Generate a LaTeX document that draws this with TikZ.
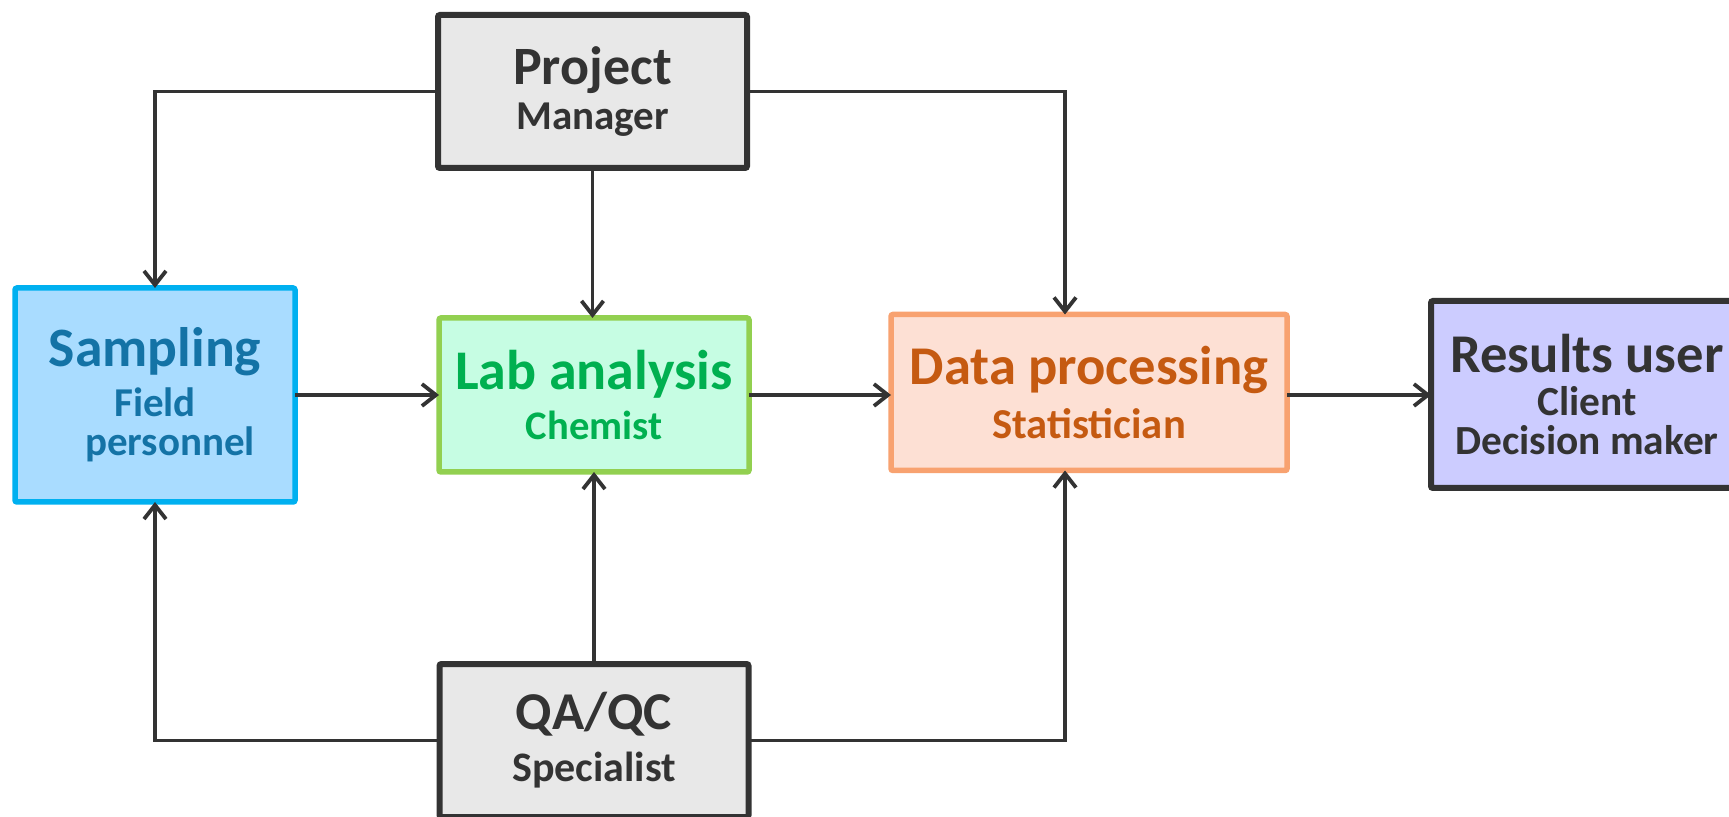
\documentclass[tikz,border=0pt]{standalone}
\usepackage{fontspec}
\setmainfont{Carlito}
\usetikzlibrary{arrows.meta}
\definecolor{ink}{HTML}{333333}
\definecolor{sampfill}{HTML}{A9DCFF}
\definecolor{sampline}{HTML}{00B0F0}
\definecolor{samptext}{HTML}{1473A6}
\definecolor{labfill}{HTML}{C6FDE3}
\definecolor{labline}{HTML}{92D050}
\definecolor{labtext}{HTML}{00B050}
\definecolor{dpfill}{HTML}{FDE0D4}
\definecolor{dpline}{HTML}{F8A270}
\definecolor{dptext}{HTML}{C55A11}
\definecolor{resfill}{HTML}{CCCCFF}
\definecolor{grayfill}{HTML}{E8E8E8}
\newcommand{\ttlfont}[1]{\fontsize{#1}{#1}\selectfont}
\tikzset{
  box/.style={draw, line width=2.75pt, rounded corners=1pt, align=center,
    font=\bfseries, inner sep=0pt, outer sep=0pt},
  graybox/.style={box, draw=ink, fill=grayfill, text=ink, line width=3pt},
  arr/.style={draw=ink, line width=1.9pt, -{Straight Barb[length=7pt,width=11pt,line width=1.9pt]}},
}
\begin{document}
\begin{tikzpicture}[x=0.5pt,y=-0.5pt]
\useasboundingbox (0,0) rectangle (1729,817);
\node[box, draw=sampline, fill=sampfill, text=samptext, minimum width=140pt, minimum height=107pt]
  (samp) at (155,395) {\ttlfont{27.8pt}Sampling\\[5pt]\ttlfont{20.5pt}Field\\[4pt]\ttlfont{20.5pt}\hspace*{15pt}personnel};
\node[box, draw=labline, fill=labfill, text=labtext, minimum width=155pt, minimum height=77pt]
  (lab) at (594,395) {\ttlfont{28pt}Lab analysis\\[5pt]\ttlfont{20.3pt}Chemist};
\node[box, draw=dpline, fill=dpfill, text=dptext, minimum width=198pt, minimum height=78pt]
  (dp) at (1089,392.5) {\ttlfont{27.3pt}Data processing\\[6pt]\ttlfont{21.3pt}Statistician};
\node[box, draw=ink, fill=resfill, text=ink, line width=3pt, minimum width=156pt, minimum height=93.5pt]
  (res) at (1587,394.5) {\ttlfont{27.3pt}Results user\\[6pt]\ttlfont{20.7pt}Client\\[4pt]\ttlfont{20.7pt}Decision maker};
\node[graybox, minimum width=154.5pt, minimum height=76.5pt]
  (pm) at (592.5,91.5) {\ttlfont{27pt}Project\\[4pt]\ttlfont{20.5pt}Manager};
\node[graybox, minimum width=154.5pt, minimum height=76.5pt]
  (qa) at (594,740.5) {\ttlfont{26.6pt}QA/QC\\[7pt]\ttlfont{21pt}Specialist};
\coordinate (tx) at (1065,0);
\draw[arr] (pm.west) -| (samp.north);
\draw[arr] (pm.east) -| (dp.north -| tx);
\draw[arr] (pm.south) -- (pm.south |- lab.north);
\draw[arr] (samp.east) -- (lab.west);
\draw[arr] (lab.east) -- (lab.east -| dp.west);
\draw[arr] (lab.east -| dp.east) -- (lab.east -| res.west);
\draw[arr] (qa.north) -- (lab.south);
\draw[arr] (qa.west) -| (samp.south);
\draw[arr] (qa.east) -| (dp.south -| tx);
\end{tikzpicture}
\end{document}
